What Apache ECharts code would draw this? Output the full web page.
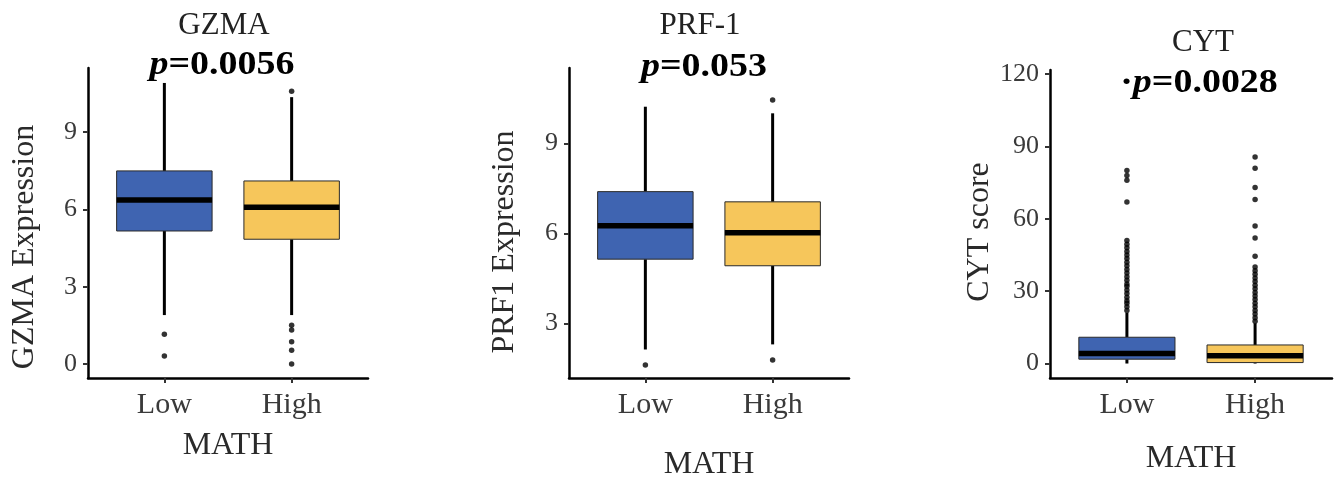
<!DOCTYPE html>
<html lang="en">
<head>
    <meta charset="UTF-8">
    <title>MATH boxplots</title>
    <script src="https://cdn.jsdelivr.net/npm/echarts@6.0.0/dist/echarts.min.js"></script>
    <style>
        html, body { margin: 0; padding: 0; background: #fff; }
    </style>
</head>
<body>
    <div id="main" style="width: 1344px;height:483px;"></div>
    <script type="text/javascript">
        // groups on the x axis
        const categories = ['Low', 'High'];
        const boxColors = ['#3F64B1', '#F6C65B'];

        // box stats: [lower whisker, Q1, median, Q3, upper whisker]
        const gzmaBox = [[1.9, 5.16, 6.36, 7.49, 10.9], [1.9, 4.84, 6.08, 7.1, 10.35]];
        const gzmaOutLow = [1.16, 0.31];
        const gzmaOutHigh = [10.58, 1.51, 1.32, 0.87, 0.54, 0.0];

        const prfBox = [[2.13, 5.14, 6.25, 7.39, 10.22], [2.3, 4.92, 6.02, 7.05, 10.0]];
        const prfOutLow = [1.61];
        const prfOutHigh = [10.44, 1.78];

        const cytBox = [[0, 1.8, 4.2, 10.9, 21], [0, 0.4, 3.2, 7.7, 16.7]];
        const cytOutLow = [22, 23.5, 25, 26, 27.5, 29, 30.5, 32, 33, 34.5, 36, 37.5, 39, 40.5, 42, 43.5, 45, 46.5, 48, 49.5, 51, 67, 76, 78, 80];
        const cytOutHigh = [17.5, 19, 20.5, 22, 23.5, 25, 26.5, 28, 29.5, 31, 32.5, 34, 35.5, 37, 38.5, 40, 44.5, 52, 57, 68, 73, 81, 85.6];

        // y tick labels
        const gzmaTicks = [0, 3, 6, 9];
        const prfTicks = [3, 6, 9];
        const cytTicks = [0, 30, 60, 90, 120];

        const serif = 'Liberation Serif';

        // one grid per panel
        const panels = [
            { left: 88, top: 68, width: 280, height: 310, ymin: -0.54, ymax: 11.48, ticks: gzmaTicks, nameGap: 52,
              box: gzmaBox, outLow: gzmaOutLow, outHigh: gzmaOutHigh },
            { left: 569, top: 68, width: 280, height: 310, ymin: 1.18, ymax: 11.51, ticks: prfTicks, nameGap: 71,
              box: prfBox, outLow: prfOutLow, outHigh: prfOutHigh },
            { left: 1050, top: 70, width: 282, height: 308, ymin: -6, ymax: 121.7, ticks: cytTicks, nameGap: 65,
              box: cytBox, outLow: cytOutLow, outHigh: cytOutHigh }
        ];

        function renderBox(params, api) {
            const x = api.value(0);
            const lo = api.coord([x, api.value(1)]);
            const q1 = api.coord([x, api.value(2)]);
            const md = api.coord([x, api.value(3)]);
            const q3 = api.coord([x, api.value(4)]);
            const hi = api.coord([x, api.value(5)]);
            const w = api.size([0.75, 0])[0];
            return {
                type: 'group',
                children: [
                    { type: 'line', shape: { x1: lo[0], y1: lo[1], x2: q1[0], y2: q1[1] }, style: { stroke: '#000', lineWidth: 3 } },
                    { type: 'line', shape: { x1: q3[0], y1: q3[1], x2: hi[0], y2: hi[1] }, style: { stroke: '#000', lineWidth: 3 } },
                    { type: 'rect', shape: { x: q3[0] - w / 2, y: q3[1], width: w, height: q1[1] - q3[1] },
                      style: { fill: boxColors[params.dataIndex], stroke: '#2a2a2a', lineWidth: 1 } },
                    { type: 'line', shape: { x1: md[0] - w / 2, y1: md[1], x2: md[0] + w / 2, y2: md[1] }, style: { stroke: '#000', lineWidth: 5.5 } }
                ]
            };
        }

        const grid = [], xAxis = [], yAxis = [], series = [];
        panels.forEach((p, i) => {
            grid.push({ left: p.left, top: p.top, width: p.width, height: p.height, outerBoundsMode: 'none' });
            xAxis.push({
                type: 'value', gridIndex: i, min: 0.4, max: 2.6,
                name: 'MATH', nameLocation: 'middle', nameGap: p.nameGap,
                nameTextStyle: { fontFamily: serif, fontSize: 32, color: '#2a2a2a' },
                axisLine: { show: true, onZero: false, lineStyle: { color: '#000', width: 2.5 } },
                axisTick: { show: true, length: 5, customValues: [1, 2], lineStyle: { color: '#333', width: 2 } },
                axisLabel: { customValues: [1, 2], margin: 12, fontFamily: serif, fontSize: 30, color: '#3a3a3a',
                    formatter: v => categories[Math.round(v) - 1] },
                splitLine: { show: false }
            });
            yAxis.push({
                type: 'value', gridIndex: i, min: p.ymin, max: p.ymax,
                axisLine: { show: true, onZero: false, lineStyle: { color: '#000', width: 2.5 } },
                axisTick: { show: true, length: 5, customValues: p.ticks, lineStyle: { color: '#333', width: 2 } },
                axisLabel: { customValues: p.ticks, margin: 11, fontFamily: serif, fontSize: 26, color: '#3a3a3a' },
                splitLine: { show: false }
            });
            series.push({
                type: 'custom', xAxisIndex: i, yAxisIndex: i,
                renderItem: renderBox,
                encode: { x: 0, y: [1, 2, 3, 4, 5] },
                data: p.box.map((b, k) => [k + 1].concat(b)),
                silent: true
            });
            series.push({
                type: 'scatter', xAxisIndex: i, yAxisIndex: i,
                symbolSize: 5.5, itemStyle: { color: '#000' },
                data: p.outLow.map(v => [1, v]).concat(p.outHigh.map(v => [2, v])),
                silent: true, z: 3
            });
        });

        function title(text, x, y) {
            return { type: 'text', x: x, y: y, style: { text: text, font: '31px "' + serif + '"', fill: '#222', align: 'center', verticalAlign: 'middle' } };
        }
        function pval(text, x, y) {
            return {
                type: 'text', x: x, y: y, scaleX: 1.15,
                style: {
                    text: text, align: 'center', verticalAlign: 'middle',
                    rich: {
                        i: { fontFamily: serif, fontSize: 33, fontWeight: 'bold', fontStyle: 'italic', fill: '#000' },
                        b: { fontFamily: serif, fontSize: 33, fontWeight: 'bold', fill: '#000' }
                    }
                }
            };
        }
        function yName(text, x, y) {
            return { type: 'text', x: x, y: y, rotation: Math.PI / 2,
                style: { text: text, font: '32px "' + serif + '"', fill: '#2a2a2a', align: 'center', verticalAlign: 'middle' } };
        }

        const graphic = [
            title('GZMA', 224, 26), pval('{i|p}{b|=0.0056}', 222, 65), yName('GZMA Expression', 25, 247),
            title('PRF-1', 700, 26), pval('{i|p}{b|=0.053}', 704, 67), yName('PRF1 Expression', 505, 242),
            title('CYT', 1203, 43), pval('{b|·}{i|p}{b|=0.0028}', 1199, 83), yName('CYT score', 980, 232)
        ];

        let myChart = echarts.init(document.getElementById('main'));
        myChart.setOption({
            animation: false,
            grid: grid,
            xAxis: xAxis,
            yAxis: yAxis,
            series: series,
            graphic: graphic
        });
    </script>
</body>
</html>
